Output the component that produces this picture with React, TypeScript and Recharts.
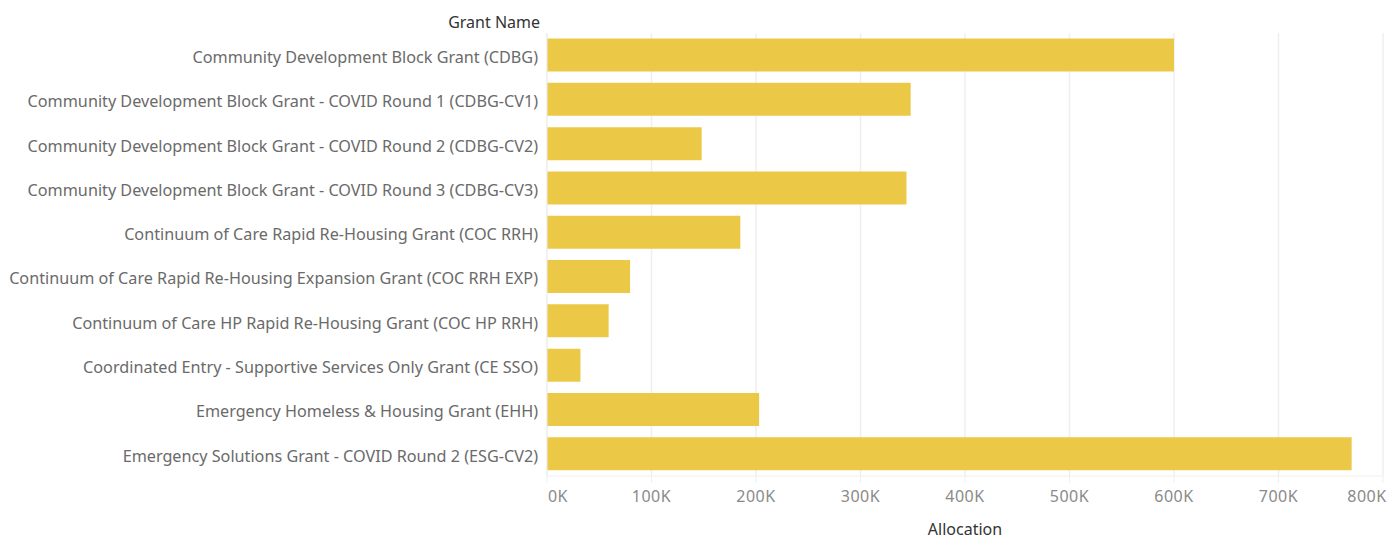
import { Bar, BarChart, CartesianGrid, XAxis, YAxis } from 'recharts';

const grants = [
  'Community Development Block Grant (CDBG)',
  'Community Development Block Grant - COVID Round 1 (CDBG-CV1)',
  'Community Development Block Grant - COVID Round 2 (CDBG-CV2)',
  'Community Development Block Grant - COVID Round 3 (CDBG-CV3)',
  'Continuum of Care Rapid Re-Housing Grant (COC RRH)',
  'Continuum of Care Rapid Re-Housing Expansion Grant (COC RRH EXP)',
  'Continuum of Care HP Rapid Re-Housing Grant (COC HP RRH)',
  'Coordinated Entry - Supportive Services Only Grant (CE SSO)',
  'Emergency Homeless & Housing Grant (EHH)',
  'Emergency Solutions Grant - COVID Round 2 (ESG-CV2)',
];
const allocations = [600000, 348000, 148000, 344000, 185000, 79500, 59000, 32000, 203000, 770000];
const xTicks = [0, 100000, 200000, 300000, 400000, 500000, 600000, 700000, 800000];

const data = grants.map((name, i) => ({ name, allocation: allocations[i] }));

const font = '"Noto Sans", sans-serif';
const barColor = '#EBC946';
const gridColor = '#efefef';

function XTick(props: any) {
  const { x, y, payload, index } = props;
  let dx = 0;
  if (index === 0) dx = 11;
  if (index === xTicks.length - 1) dx = -16;
  return (
    <text x={x + dx} y={y + 17} textAnchor="middle" fill="#8a8a8a" fontSize={16} letterSpacing={0.5} fontFamily={font}>
      {`${payload.value / 1000}K`}
    </text>
  );
}

export default function App() {
  return (
    <div style={{ position: 'absolute', left: 0, top: 0, width: 1390, height: 540, background: '#fff' }}>
      <div
        style={{
          position: 'absolute',
          right: 1390 - 540,
          top: 11,
          fontFamily: font,
          fontSize: 16,
          color: '#333',
          whiteSpace: 'nowrap',
        }}
      >
        Grant Name
      </div>
      <BarChart
        width={1390}
        height={540}
        data={data}
        layout="vertical"
        margin={{ top: 33, right: 7, bottom: 0, left: 0 }}
        barCategoryGap="12.5%"
      >
        <CartesianGrid horizontal={false} stroke={gridColor} strokeWidth={1.5} />
        <XAxis
          type="number"
          domain={[0, 800000]}
          ticks={xTicks}
          interval={0}
          height={64}
          stroke={gridColor}
          tickLine={{ stroke: gridColor }}
          tickSize={7}
          tick={<XTick />}
          label={{
            value: 'Allocation',
            position: 'insideBottom',
            offset: 0,
            fill: '#333',
            fontSize: 16,
            fontFamily: font,
            dy: -5,
          }}
        />
        <YAxis
          type="category"
          dataKey="name"
          width={547}
          interval={0}
          stroke={gridColor}
          tickLine={false}
          tick={{ fill: '#6a6a6a', fontSize: 16.2, fontFamily: font, dx: -1, dy: 2 }}
        />
        <Bar dataKey="allocation" fill={barColor} isAnimationActive={false} />
      </BarChart>
    </div>
  );
}
